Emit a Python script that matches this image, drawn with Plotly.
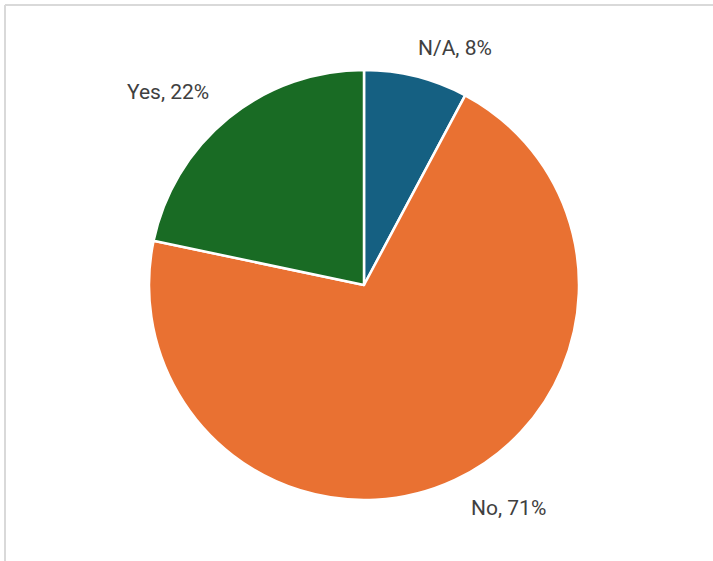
import plotly.graph_objects as go

labels = ["N/A", "No", "Yes"]
values = [7.8, 70.5, 21.7]
shown_pct = [8, 71, 22]
colors = ["#156082", "#E97132", "#196B24"]
# data-label anchor positions (pixels, like manually placed chart labels)
label_px = [(455, 48), (508, 508), (168, 92)]

W, H = 713, 561
cx, cy, r = 364, 285, 215

fig = go.Figure(go.Pie(
    labels=labels, values=values,
    sort=False, direction="clockwise", rotation=0,
    marker=dict(colors=colors, line=dict(color="white", width=2.5)),
    textinfo="none",
    showlegend=False, hoverinfo="label+percent",
    domain=dict(x=[(cx - r) / W, (cx + r) / W],
                y=[(H - cy - r) / H, (H - cy + r) / H]),
))

annotations = []
for lab, p, (px, py) in zip(labels, shown_pct, label_px):
    annotations.append(dict(
        text=f"{lab}, {p}%", x=px / W, y=1 - py / H, xref="paper", yref="paper",
        xanchor="center", yanchor="middle", showarrow=False,
        font=dict(family="Roboto", size=21, color="#404040"),
    ))

fig.update_layout(
    width=W, height=H, margin=dict(l=0, r=0, t=0, b=0),
    paper_bgcolor="white", plot_bgcolor="white",
    annotations=annotations,
    shapes=[
        dict(type="line", xref="paper", yref="paper", x0=5 / W, x1=1.01, y0=1 - 5 / H, y1=1 - 5 / H,
             line=dict(color="#d9d9d9", width=2)),
        dict(type="line", xref="paper", yref="paper", x0=5 / W, x1=5 / W, y0=-0.01, y1=1 - 5 / H,
             line=dict(color="#d9d9d9", width=2)),
    ],
)

fig.write_html("out.html")
